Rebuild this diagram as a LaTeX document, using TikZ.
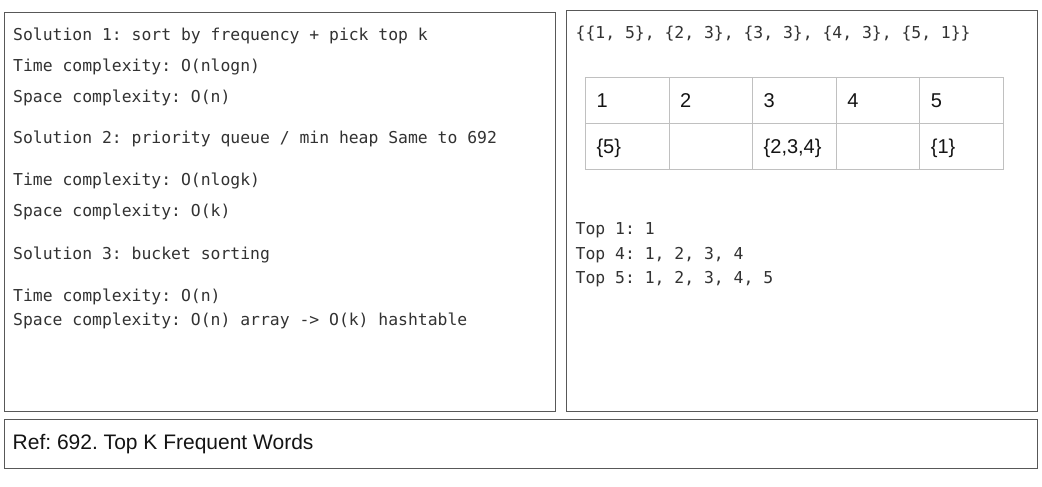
\documentclass[tikz,border=0pt]{standalone}
\usepackage{fontspec}
\setmainfont{Liberation Sans}
\newfontfamily\codefont{DejaVu Sans Mono}
\definecolor{boxline}{RGB}{88,88,88}
\definecolor{codetext}{RGB}{50,50,50}
\definecolor{gridline}{RGB}{192,192,192}
\definecolor{celltext}{RGB}{20,20,20}
\frenchspacing
\begin{document}
\begin{tikzpicture}[x=1pt,y=-1pt,
  panel/.style={draw=boxline, line width=1.4pt, fill=white, anchor=north west, inner sep=0pt},
  code/.style={font=\codefont\fontsize{16.4}{19}\selectfont, text=codetext, anchor=base west, inner sep=0pt},
  cell/.style={draw=gridline, line width=1pt, minimum width=83.6pt, minimum height=45.7pt,
    text width=61.6pt, inner xsep=11pt, inner ysep=0pt, align=left,
    text height=14pt, text depth=0pt, font=\fontsize{20}{22}\selectfont, text=celltext, anchor=north west},
  reftext/.style={font=\fontsize{21}{24}\selectfont, text=celltext, anchor=base west, inner sep=0pt}]
\useasboundingbox (0,0) rectangle (1042,487);
\fill[white] (0,0) rectangle (1042,487);
% panels
\node[panel, minimum width=551pt, minimum height=398.5pt] (leftpanel) at (3.5,12) {};
\node[panel, minimum width=471pt, minimum height=400.5pt] (rightpanel) at (566,10) {};
\node[panel, minimum width=1033.5pt, minimum height=49.5pt] (refpanel) at (3.5,418.5) {};
% left texts
\node[code] (s1)  at (13,41)    {Solution 1: sort by frequency + pick top k};
\node[code] (t1)  at (13,72)    {Time complexity: O(nlogn)};
\node[code] (p1)  at (13,102.5) {Space complexity: O(n)};
\node[code] (s2)  at (13,143.5) {Solution 2: priority queue / min heap Same to 692};
\node[code] (t2)  at (13,185)   {Time complexity: O(nlogk)};
\node[code] (p2)  at (13,216.5) {Space complexity: O(k)};
\node[code] (s3)  at (13,259)   {Solution 3: bucket sorting};
\node[code] (t3)  at (13,301)   {Time complexity: O(n)};
\node[code] (p3)  at (13,325)   {Space complexity: O(n) array -> O(k) hashtable};
% right texts
\node[code] (pairs) at (575.5,38.5) {\{\{1, 5\}, \{2, 3\}, \{3, 3\}, \{4, 3\}, \{5, 1\}\}};
\foreach \c/\bot in {1/{\{5\}},2/{},3/{\{2,3,4\}},4/{},5/{\{1\}}}{
  \node[cell] (h\c) at ({585+(\c-1)*83.6},77.2) {\c};
  \node[cell] (b\c) at ({585+(\c-1)*83.6},122.9) {\bot};
}
\node[code] (top1) at (575.5,234) {Top 1: 1};
\node[code] (top4) at (575.5,259) {Top 4: 1, 2, 3, 4};
\node[code] (top5) at (575.5,283.5) {Top 5: 1, 2, 3, 4, 5};
% reference
\node[reftext] (ref) at (12.5,449.5) {Ref: 692. Top K Frequent Words};
\end{tikzpicture}
\end{document}
